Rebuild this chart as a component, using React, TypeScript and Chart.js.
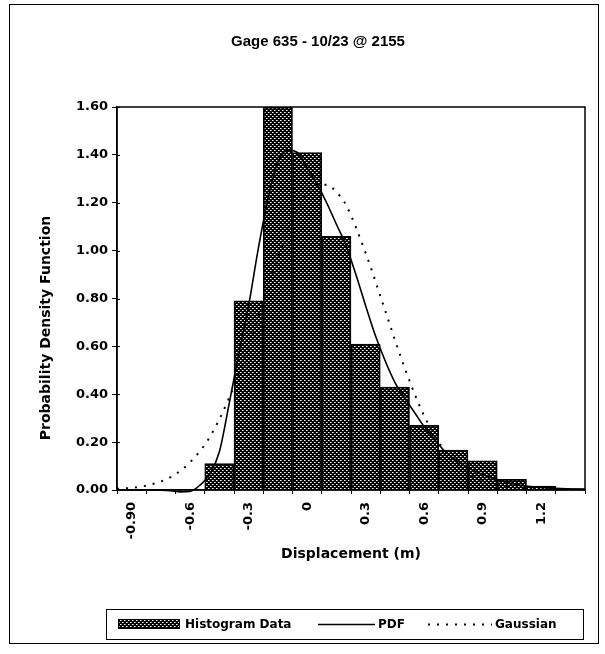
import React, { useEffect, useRef } from 'react';
import { Chart, registerables } from 'chart.js';

Chart.register(...registerables);

// ---------- data ----------
const chartTitle = 'Gage 635 - 10/23 @ 2155';
const xAxisTitle = 'Displacement (m)';
const yAxisTitle = 'Probability Density Function';

const binLabels = ['-0.90', '-0.75', '-0.6', '-0.45', '-0.3', '-0.15', '0', '0.15', '0.3', '0.45', '0.6', '0.75', '0.9', '1.05', '1.2', '1.35'];
const shownBinLabels = ['-0.90', '-0.6', '-0.3', '0', '0.3', '0.6', '0.9', '1.2'];
const histValues = [null, null, null, 0.11, 0.79, 1.6, 1.41, 1.06, 0.61, 0.43, 0.27, 0.167, 0.122, 0.045, 0.016, 0.006];

const pdfX = [-0.975, -0.9, -0.8, -0.7, -0.65, -0.6, -0.55, -0.5, -0.45, -0.4, -0.35, -0.3, -0.25, -0.2, -0.15, -0.1, -0.05, 0, 0.05, 0.1, 0.15, 0.2, 0.25, 0.3, 0.35, 0.4, 0.45, 0.5, 0.55, 0.6, 0.65, 0.7, 0.8, 0.9, 1.0, 1.1, 1.2, 1.3, 1.425];
const pdfY = [0, 0, 0, -0.003, -0.008, -0.006, 0.02, 0.065, 0.16, 0.36, 0.57, 0.77, 1.01, 1.22, 1.37, 1.42, 1.41, 1.345, 1.28, 1.2, 1.11, 1.02, 0.9, 0.77, 0.645, 0.54, 0.45, 0.385, 0.325, 0.265, 0.215, 0.167, 0.105, 0.065, 0.037, 0.019, 0.011, 0.006, 0.003];

const gaussX = [-0.975, -0.9, -0.8, -0.7, -0.6, -0.5, -0.4, -0.3, -0.2, -0.1, 0, 0.05, 0.1, 0.15, 0.2, 0.3, 0.4, 0.5, 0.6, 0.7, 0.8, 0.9, 1.0, 1.1, 1.2, 1.3, 1.425];
const gaussY = [0.005, 0.009, 0.023, 0.054, 0.116, 0.22, 0.385, 0.6, 0.85, 1.08, 1.24, 1.275, 1.275, 1.245, 1.19, 0.99, 0.75, 0.51, 0.31, 0.17, 0.086, 0.039, 0.016, 0.006, 0.002, 0.001, 0];

const seriesNames = ['Histogram Data', 'PDF', 'Gaussian'];
const yMin = 0;
const yMax = 1.6;
const yStep = 0.2;
const xMin = -0.975;
const xMax = 1.425;

const FONT = '"DejaVu Sans", "Liberation Sans", sans-serif';
const TITLE_FONT = '"Liberation Sans", Arial, sans-serif';

function makePattern(ctx: CanvasRenderingContext2D): CanvasPattern | string {
  const c = document.createElement('canvas');
  c.width = 4;
  c.height = 4;
  const p = c.getContext('2d');
  if (!p) return '#333';
  p.fillStyle = '#000';
  p.fillRect(0, 0, 4, 4);
  p.fillStyle = '#fff';
  p.fillRect(0, 0, 1, 1);
  p.fillRect(2, 2, 1, 1);
  p.fillStyle = '#9a9a9a';
  p.fillRect(1, 0, 1, 1);
  p.fillRect(3, 2, 1, 1);
  return ctx.createPattern(c, 'repeat') || '#333';
}

export default function App() {
  const ref = useRef<HTMLCanvasElement>(null);

  useEffect(() => {
    const canvas = ref.current;
    if (!canvas) return;
    const ctx = canvas.getContext('2d');
    if (!ctx) return;
    const pattern = makePattern(ctx);

    const decor = {
      id: 'decor',
      afterDatasetsDraw(chart: any) {
        const { ctx: c, chartArea: a } = chart;
        c.save();
        c.strokeStyle = '#000';
        c.lineWidth = 1.5;
        c.strokeRect(a.left, a.top, a.right - a.left, a.bottom - a.top);
        // inner half of the y tick marks (ticks cross the axis)
        const ys = chart.scales.y;
        c.lineWidth = 1;
        ys.ticks.forEach((t: any) => {
          const py = Math.round(ys.getPixelForValue(t.value)) + 0.5;
          c.beginPath();
          c.moveTo(a.left, py);
          c.lineTo(a.left + 3, py);
          c.stroke();
        });
        c.restore();
      },
      afterDraw(chart: any) {
        const c: CanvasRenderingContext2D = chart.ctx;
        const ds = chart.data.datasets;
        c.save();
        // outer chart border
        c.strokeStyle = '#000';
        c.lineWidth = 1;
        c.strokeRect(9.5, 4.5, 589, 639);
        // title
        c.fillStyle = '#000';
        c.font = `bold 15px ${TITLE_FONT}`;
        c.textAlign = 'center';
        c.textBaseline = 'middle';
        c.fillText(chartTitle, 318, 42);
        // y axis title
        c.font = `bold 14px ${FONT}`;
        c.save();
        c.translate(46, 328);
        c.rotate(-Math.PI / 2);
        c.fillText(yAxisTitle, 0, 0);
        c.restore();
        // legend
        c.lineWidth = 1;
        c.strokeRect(106.5, 609.5, 477, 30);
        const midY = 624.5;
        c.fillStyle = pattern as any;
        c.fillRect(118, 619, 62, 10);
        c.strokeRect(118.5, 619.5, 61, 9);
        c.fillStyle = '#000';
        c.font = `bold 12px ${FONT}`;
        c.textAlign = 'left';
        c.fillText(ds[0].label, 185, midY);
        c.beginPath();
        c.lineWidth = 1.5;
        c.moveTo(318, midY);
        c.lineTo(375, midY);
        c.stroke();
        c.fillText(ds[1].label, 378, midY);
        c.beginPath();
        c.lineWidth = 2;
        c.setLineDash([2, 7]);
        c.moveTo(428, midY);
        c.lineTo(492, midY);
        c.stroke();
        c.setLineDash([]);
        c.fillText(ds[2].label, 495, midY);
        c.restore();
      },
    };

    const chart = new Chart(ctx, {
      type: 'bar',
      data: {
        labels: binLabels,
        datasets: [
          {
            type: 'bar',
            label: seriesNames[0],
            data: histValues as any,
            backgroundColor: pattern as any,
            borderColor: '#000',
            borderWidth: 1.8,
            barPercentage: 1,
            categoryPercentage: 1,
            grouped: false,
            xAxisID: 'x',
            yAxisID: 'y',
            order: 3,
          },
          {
            type: 'line',
            label: seriesNames[1],
            data: pdfX.map((x, i) => ({ x, y: pdfY[i] })) as any,
            borderColor: '#000',
            borderWidth: 1.6,
            pointRadius: 0,
            cubicInterpolationMode: 'monotone',
            fill: false,
            xAxisID: 'x2',
            yAxisID: 'y',
            clip: false as any,
            order: 1,
          },
          {
            type: 'line',
            label: seriesNames[2],
            data: gaussX.map((x, i) => ({ x, y: gaussY[i] })) as any,
            borderColor: '#000',
            borderWidth: 2,
            borderDash: [2, 7],
            pointRadius: 0,
            cubicInterpolationMode: 'monotone',
            fill: false,
            xAxisID: 'x2',
            yAxisID: 'y',
            order: 2,
          },
        ],
      },
      options: {
        responsive: false,
        animation: false,
        devicePixelRatio: 1,
        layout: { padding: { left: 10, right: 20, top: 107, bottom: 91 } },
        plugins: {
          legend: { display: false },
          title: { display: false },
          tooltip: { enabled: false },
        },
        scales: {
          x: {
            type: 'category',
            position: 'bottom',
            offset: true,
            grid: { display: true, offset: true, drawOnChartArea: false, drawTicks: true, tickLength: 4, color: '#000', lineWidth: 1 },
            border: { display: true, color: '#000', width: 1.5 },
            ticks: {
              autoSkip: false,
              maxRotation: 90,
              minRotation: 90,
              padding: 8,
              color: '#000',
              font: { family: FONT, size: 13, weight: 'bold' },
              callback: function (this: any, value: any) {
                const l = this.getLabelForValue(value);
                return shownBinLabels.includes(l) ? l : '';
              },
            },
            title: {
              display: true,
              text: xAxisTitle,
              color: '#000',
              font: { family: FONT, size: 14, weight: 'bold' },
              padding: { top: 0, bottom: 0 },
            },
            afterFit: (scale: any) => {
              scale.height = 73;
            },
          } as any,
          x2: {
            type: 'linear',
            position: 'bottom',
            display: false,
            offset: false,
            grid: { offset: false },
            min: xMin,
            max: xMax,
          } as any,
          y: {
            type: 'linear',
            min: yMin,
            max: yMax,
            grid: { display: true, drawOnChartArea: false, drawTicks: true, tickLength: 5, color: '#000', lineWidth: 1 },
            border: { display: true, color: '#000', width: 1.5 },
            ticks: {
              stepSize: yStep,
              padding: 4,
              color: '#000',
              font: { family: FONT, size: 13, weight: 'bold' },
              callback: (v: any) => Number(v).toFixed(2),
            },
            afterFit: (scale: any) => {
              scale.width = 107;
            },
          } as any,
        },
      },
      plugins: [decor],
    });

    return () => chart.destroy();
  }, []);

  return (
    <div style={{ position: 'absolute', left: 0, top: 0, width: 605, height: 654, background: '#fff' }}>
      <canvas ref={ref} width={605} height={654} style={{ display: 'block', width: 605, height: 654 }} />
    </div>
  );
}
